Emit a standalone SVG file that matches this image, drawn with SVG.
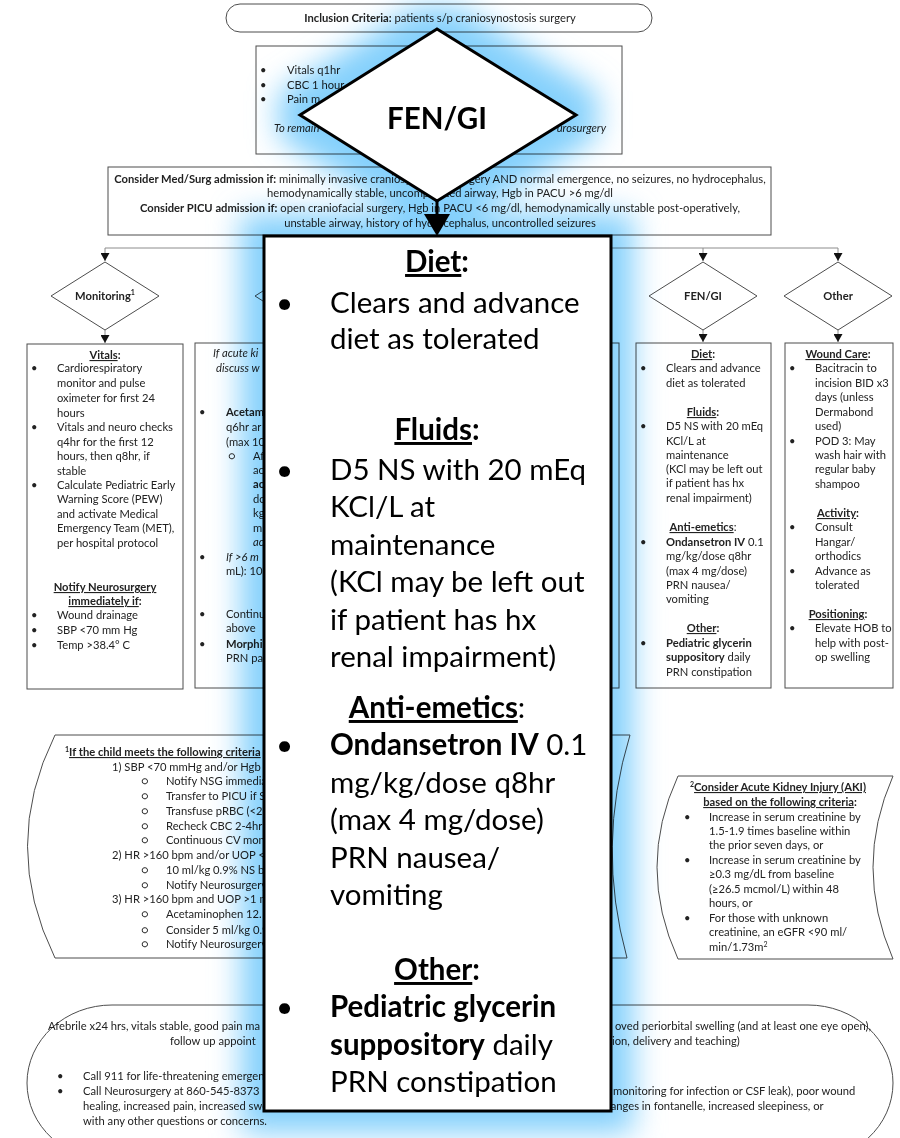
<svg xmlns="http://www.w3.org/2000/svg" width="900" height="1138" viewBox="0 0 900 1138">
<style>
  text { font-family: Lato, "Liberation Sans", sans-serif; fill: #222; }
  .s { font-size: 11.2px; }
  .b { font-weight: bold; }
  .i { font-style: italic; }
  .u { text-decoration: underline; }
  .m { text-anchor: middle; }
  .e { text-anchor: end; }
  .node { fill: #fff; stroke: #4d4d4d; stroke-width: 1; }
  .conn { fill: none; stroke: #8c8c8c; stroke-width: 1; }
  .big { font-size: 29.5px; fill: #000; }
  .zoomshape { fill: #fff; stroke: #000; stroke-width: 3; }
</style>
<defs>
  <marker id="ah" markerUnits="userSpaceOnUse" markerWidth="9" markerHeight="9" refX="8" refY="4.5" orient="auto">
    <path d="M0,0 L8,4.5 L0,9 z" fill="#111"/>
  </marker>
  <filter id="halo" x="-50%" y="-30%" width="200%" height="160%">
    <feMorphology operator="dilate" radius="22"/>
    <feGaussianBlur stdDeviation="15"/>
  </filter>
</defs>
<rect width="900" height="1138" fill="#fff"/>

<!-- connectors -->
<g id="connectors">
  <path class="conn" d="M437,32 V45" marker-end="url(#ah)"/>
  <path class="conn" d="M440,154 V166" marker-end="url(#ah)"/>
  <path class="conn" d="M440,235 V248 M105,248 H838"/>
  <path class="conn" d="M105,248 V261" marker-end="url(#ah)"/>
  <path class="conn" d="M309,248 V261" marker-end="url(#ah)"/>
  <path class="conn" d="M703,248 V261" marker-end="url(#ah)"/>
  <path class="conn" d="M838,248 V261" marker-end="url(#ah)"/>
  <path class="conn" d="M105,330 V343" marker-end="url(#ah)"/>
  <path class="conn" d="M309,330 V342" marker-end="url(#ah)"/>
  <path class="conn" d="M703,330 V342" marker-end="url(#ah)"/>
  <path class="conn" d="M838,330 V342" marker-end="url(#ah)"/>
</g>

<!-- inclusion criteria -->
<g id="inclusion">
  <rect class="node" x="226" y="4" width="426" height="28" rx="14"/>
  <text class="s m" x="440" y="22"><tspan class="b">Inclusion Criteria:</tspan> patients s/p craniosynostosis surgery</text>
</g>

<!-- PACU orders -->
<g id="pacu">
  <rect class="node" x="256" y="46" width="366" height="108"/>
  <text class="s" x="260" y="74">•</text><text class="s" x="287" y="74">Vitals q1hr</text>
  <text class="s" x="260" y="89">•</text><text class="s" x="287" y="89">CBC 1 hour</text>
  <text class="s" x="260" y="103">•</text><text class="s" x="287" y="103">Pain m</text>
  <text class="s i" x="274" y="132">To remain</text>
  <text class="s i e" x="606" y="132">urosurgery</text>
</g>

<!-- admission -->
<g id="admission">
  <rect class="node" x="108" y="167" width="663" height="68"/>
  <text class="s m" x="440" y="183"><tspan class="b">Consider Med/Surg admission if:</tspan> minimally invasive craniosynostosis surgery AND normal emergence, no seizures, no hydrocephalus,</text>
  <text class="s m" x="440" y="197">hemodynamically stable, uncomplicated airway, Hgb in PACU &gt;6 mg/dl</text>
  <text class="s m" x="440" y="212"><tspan class="b">Consider PICU admission if:</tspan> open craniofacial surgery, Hgb in PACU &lt;6 mg/dl, hemodynamically unstable post-operatively,</text>
  <text class="s m" x="440" y="227">unstable airway, history of hydrocephalus, uncontrolled seizures</text>
</g>

<!-- monitoring -->
<g id="monitoring">
  <polygon class="node" points="105,262 159,296 105,330 51,296"/>
  <text class="s b m" x="105" y="300">Monitoring<tspan font-size="7" dy="-5">1</tspan></text>
</g>
<g id="monitoring-orders">
  <rect class="node" x="27" y="344" width="156" height="345"/>
  <text class="s b m" x="105" y="359"><tspan class="u">Vitals</tspan>:</text>
  <g class="s">
    <text x="31" y="372">•</text><text x="57" y="372">Cardiorespiratory</text>
    <text x="57" y="387">monitor and pulse</text>
    <text x="57" y="402">oximeter for first 24</text>
    <text x="57" y="417">hours</text>
    <text x="31" y="431">•</text><text x="57" y="431">Vitals and neuro checks</text>
    <text x="57" y="446">q4hr for the first 12</text>
    <text x="57" y="460">hours, then q8hr, if</text>
    <text x="57" y="475">stable</text>
    <text x="31" y="489">•</text><text x="57" y="489">Calculate Pediatric Early</text>
    <text x="57" y="503">Warning Score (PEW)</text>
    <text x="57" y="518">and activate Medical</text>
    <text x="57" y="532">Emergency Team (MET),</text>
    <text x="57" y="547">per hospital protocol</text>
  </g>
  <text class="s b m u" x="105" y="591">Notify Neurosurgery</text>
  <text class="s b m" x="105" y="605"><tspan class="u">immediately if</tspan>:</text>
  <g class="s">
    <text x="31" y="619">•</text><text x="57" y="619">Wound drainage</text>
    <text x="31" y="634">•</text><text x="57" y="634">SBP &lt;70 mm Hg</text>
    <text x="31" y="649">•</text><text x="57" y="649">Temp &gt;38.4° C</text>
  </g>
</g>

<!-- analgesia -->
<g id="analgesia">
  <polygon class="node" points="309,262 363,296 309,330 255,296"/>
</g>
<g id="analgesia-orders">
  <rect class="node" x="195" y="343" width="424" height="345"/>
  <g class="s">
    <text class="i" x="213" y="357">If acute ki</text>
    <text class="i" x="216" y="372">discuss w</text>
    <text x="199" y="416">•</text><text class="b" x="226" y="416">Acetam</text>
    <text x="226" y="431">q6hr ar</text>
    <text x="226" y="446">(max 10</text>
    <text x="228" y="460">○</text><text x="253" y="460">Af</text>
    <text x="253" y="474">ac</text>
    <text class="b" x="253" y="488">ac</text>
    <text x="253" y="503">do</text>
    <text x="253" y="517">kg</text>
    <text x="253" y="532">m</text>
    <text class="i" x="253" y="546">ac</text>
    <text x="199" y="561">•</text><text class="i" x="226" y="561">If &gt;6 m</text>
    <text x="226" y="575">mL): 10</text>
    <text x="199" y="618">•</text><text x="226" y="618">Continu</text>
    <text x="226" y="632">above</text>
    <text x="199" y="648">•</text><text class="b" x="226" y="648">Morphi</text>
    <text x="226" y="662">PRN pai</text>
  </g>
</g>

<!-- FEN/GI -->
<g id="fengi">
  <polygon class="node" points="703,262 757,296 703,330 649,296"/>
  <text class="s b m" x="703" y="300">FEN/GI</text>
</g>
<g id="fengi-orders">
  <rect class="node" x="636" y="343" width="135" height="345"/>
  <text class="s b m" x="703" y="358"><tspan class="u">Diet</tspan>:</text>
  <g class="s">
    <text x="640" y="372">•</text><text x="666" y="372">Clears and advance</text>
    <text x="666" y="387">diet as tolerated</text>
  </g>
  <text class="s b m" x="703" y="416"><tspan class="u">Fluids</tspan>:</text>
  <g class="s">
    <text x="640" y="430">•</text><text x="666" y="430">D5 NS with 20 mEq</text>
    <text x="666" y="445">KCl/L at</text>
    <text x="666" y="459">maintenance</text>
    <text x="666" y="473">(KCl may be left out</text>
    <text x="666" y="487">if patient has hx</text>
    <text x="666" y="502">renal impairment)</text>
  </g>
  <text class="s m" x="703" y="531"><tspan class="b u">Anti-emetics</tspan>:</text>
  <g class="s">
    <text x="640" y="546">•</text><text x="666" y="546"><tspan class="b">Ondansetron IV</tspan> 0.1</text>
    <text x="666" y="560">mg/kg/dose q8hr</text>
    <text x="666" y="575">(max 4 mg/dose)</text>
    <text x="666" y="589">PRN nausea/</text>
    <text x="666" y="603">vomiting</text>
  </g>
  <text class="s b m" x="703" y="632"><tspan class="u">Other</tspan>:</text>
  <g class="s">
    <text x="640" y="647">•</text><text class="b" x="666" y="647">Pediatric glycerin</text>
    <text x="666" y="661"><tspan class="b">suppository</tspan> daily</text>
    <text x="666" y="676">PRN constipation</text>
  </g>
</g>

<!-- Other -->
<g id="other">
  <polygon class="node" points="838,262 892,296 838,330 784,296"/>
  <text class="s b m" x="838" y="300">Other</text>
</g>
<g id="other-orders">
  <rect class="node" x="785" y="343" width="108" height="345"/>
  <text class="s b m" x="838" y="358"><tspan class="u">Wound Care</tspan>:</text>
  <g class="s">
    <text x="789" y="372">•</text><text x="815" y="372">Bacitracin to</text>
    <text x="815" y="387">incision BID x3</text>
    <text x="815" y="401">days (unless</text>
    <text x="815" y="416">Dermabond</text>
    <text x="815" y="430">used)</text>
    <text x="789" y="445">•</text><text x="815" y="445">POD 3: May</text>
    <text x="815" y="459">wash hair with</text>
    <text x="815" y="473">regular baby</text>
    <text x="815" y="488">shampoo</text>
  </g>
  <text class="s b m" x="838" y="517"><tspan class="u">Activity</tspan>:</text>
  <g class="s">
    <text x="789" y="531">•</text><text x="815" y="531">Consult</text>
    <text x="815" y="546">Hangar/</text>
    <text x="815" y="560">orthodics</text>
    <text x="789" y="575">•</text><text x="815" y="575">Advance as</text>
    <text x="815" y="589">tolerated</text>
  </g>
  <text class="s b m" x="838" y="618"><tspan class="u">Positioning</tspan>:</text>
  <g class="s">
    <text x="789" y="632">•</text><text x="815" y="632">Elevate HOB to</text>
    <text x="815" y="647">help with post-</text>
    <text x="815" y="661">op swelling</text>
  </g>
</g>

<!-- footnote 1: escalation criteria -->
<g id="escalation">
  <path class="node" d="M55,735 L630,735 Q596,846 627,958 L55,958 Q0,846 55,735 Z"/>
  <text class="s b" x="65" y="756"><tspan font-size="7" dy="-4">1</tspan><tspan class="u" dy="4">If the child meets the following criteria</tspan></text>
  <g class="s">
    <text x="112" y="771">1) SBP &lt;70 mmHg and/or Hgb</text>
    <text x="141" y="785">○</text><text x="166" y="785">Notify NSG immedia</text>
    <text x="141" y="800">○</text><text x="166" y="800">Transfer to PICU if S</text>
    <text x="141" y="815">○</text><text x="166" y="815">Transfuse pRBC (&lt;2</text>
    <text x="141" y="830">○</text><text x="166" y="830">Recheck CBC 2-4hrs</text>
    <text x="141" y="844">○</text><text x="166" y="844">Continuous CV mon</text>
    <text x="112" y="859">2) HR &gt;160 bpm and/or UOP &lt;</text>
    <text x="141" y="874">○</text><text x="166" y="874">10 ml/kg 0.9% NS b</text>
    <text x="141" y="889">○</text><text x="166" y="889">Notify Neurosurgery</text>
    <text x="112" y="903">3) HR &gt;160 bpm and UOP &gt;1 m</text>
    <text x="141" y="918">○</text><text x="166" y="918">Acetaminophen 12.</text>
    <text x="141" y="934">○</text><text x="166" y="934">Consider 5 ml/kg 0.9</text>
    <text x="141" y="948">○</text><text x="166" y="948">Notify Neurosurgery</text>
  </g>
</g>

<!-- footnote 2: AKI criteria -->
<g id="aki">
  <path class="node" d="M678,776 L893,776 Q853,867 893,959 L678,959 Q636,867 678,776 Z"/>
  <text class="s b m" x="778" y="791"><tspan font-size="7" dy="-4">2</tspan><tspan class="u" dy="4">Consider Acute Kidney Injury (AKI)</tspan></text>
  <text class="s b m" x="780" y="806"><tspan class="u">based on the following criteria</tspan>:</text>
  <g class="s">
    <text x="684" y="821">•</text><text x="709" y="821">Increase in serum creatinine by</text>
    <text x="709" y="835">1.5-1.9 times baseline within</text>
    <text x="709" y="849">the prior seven days, or</text>
    <text x="684" y="864">•</text><text x="709" y="864">Increase in serum creatinine by</text>
    <text x="709" y="878">≥0.3 mg/dL from baseline</text>
    <text x="709" y="893">(≥26.5 mcmol/L) within 48</text>
    <text x="709" y="907">hours, or</text>
    <text x="684" y="922">•</text><text x="709" y="922">For those with unknown</text>
    <text x="709" y="936">creatinine, an eGFR &lt;90 ml/</text>
    <text x="709" y="951">min/1.73m<tspan font-size="7" dy="-4">2</tspan></text>
  </g>
</g>

<!-- discharge criteria -->
<g id="discharge">
  <path class="node" d="M112,1005 L808,1005 A85,78 0 0 1 808,1161 L112,1161 A85,78 0 0 1 112,1005 Z"/>
  <g class="s">
    <text x="48" y="1030">Afebrile x24 hrs, vitals stable, good pain ma</text>
    <text class="e" x="871" y="1030">oved periorbital swelling (and at least one eye open),</text>
    <text x="170" y="1045">follow up appoint</text>
    <text x="612" y="1045">ion, delivery and teaching)</text>
    <text x="57" y="1080">•</text><text x="83" y="1080">Call 911 for life-threatening emergen</text>
    <text x="57" y="1095">•</text><text x="83" y="1095">Call Neurosurgery at 860-545-8373 if</text>
    <text x="613" y="1095">monitoring for infection or CSF leak), poor wound</text>
    <text x="83" y="1110">healing, increased pain, increased swelling, poor oral intake, vomiting, changes in bowel/bladder function, changes in fontanelle, increased sleepiness, or</text>
    <text x="83" y="1125">with any other questions or concerns.</text>
  </g>
</g>

<!-- magnified FEN/GI callout -->
<g id="callout-halo" style="mix-blend-mode:multiply">
  <g filter="url(#halo)" fill="#84d0fc">
    <polygon points="437,29 576,115 437,201 300,115"/>
    <rect x="427" y="195" width="20" height="45"/>
    <rect x="263" y="236" width="348" height="875"/>
  </g>
</g>
<g id="callout-arrow">
  <path d="M437,201 V216" stroke="#000" stroke-width="3"/>
  <polygon points="424,214 450,214 437,236" fill="#000"/>
</g>
<g id="callout-diamond">
  <polygon class="zoomshape" points="437,29 576,115 437,201 300,115"/>
  <text class="big b m" x="437" y="129" font-size="40">FEN/GI</text>
</g>
<g id="callout-box">
  <rect class="zoomshape" x="264" y="236" width="347" height="875"/>
  <text class="big b m" x="437" y="272"><tspan class="u">Diet</tspan>:</text>
  <text class="big" x="276" y="313">•</text><text class="big" x="330" y="313">Clears and advance</text>
  <text class="big" x="330" y="349">diet as tolerated</text>
  <text class="big b m" x="437" y="440"><tspan class="u">Fluids</tspan>:</text>
  <text class="big" x="276" y="480">•</text><text class="big" x="330" y="480">D5 NS with 20 mEq</text>
  <text class="big" x="330" y="517">KCl/L at</text>
  <text class="big" x="330" y="555">maintenance</text>
  <text class="big" x="330" y="592">(KCl may be left out</text>
  <text class="big" x="330" y="630">if patient has hx</text>
  <text class="big" x="330" y="667">renal impairment)</text>
  <text class="big m" x="437" y="718"><tspan class="b u">Anti-emetics</tspan>:</text>
  <text class="big" x="276" y="755">•</text><text class="big" x="330" y="755"><tspan class="b">Ondansetron IV</tspan> 0.1</text>
  <text class="big" x="330" y="793">mg/kg/dose q8hr</text>
  <text class="big" x="330" y="830">(max 4 mg/dose)</text>
  <text class="big" x="330" y="868">PRN nausea/</text>
  <text class="big" x="330" y="905">vomiting</text>
  <text class="big b m" x="437" y="980"><tspan class="u">Other</tspan>:</text>
  <text class="big" x="276" y="1017">•</text><text class="big b" x="330" y="1017">Pediatric glycerin</text>
  <text class="big" x="330" y="1055"><tspan class="b">suppository</tspan> daily</text>
  <text class="big" x="330" y="1092">PRN constipation</text>
</g>
</svg>
